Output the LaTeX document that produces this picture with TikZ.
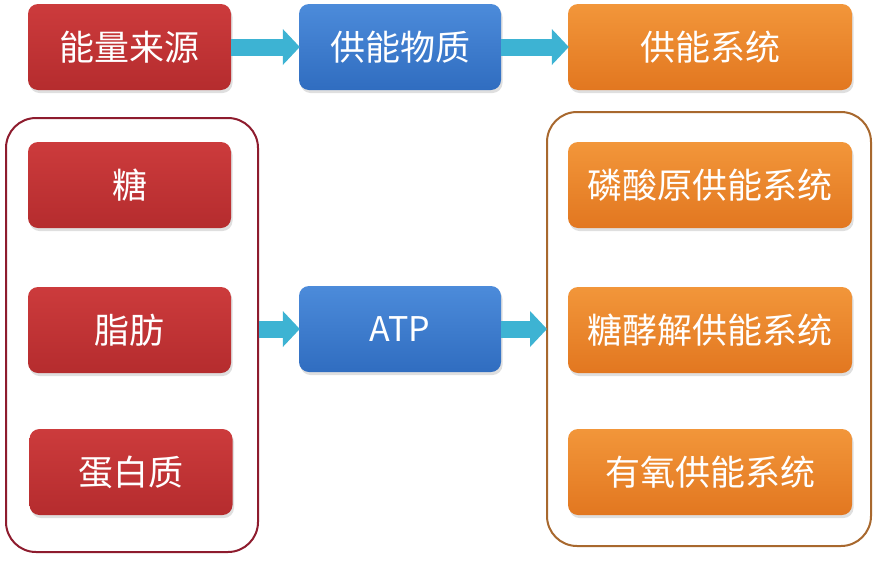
\documentclass[tikz,border=0pt]{standalone}
\usepackage{fontspec}
\newfontfamily\cjk{Noto Sans CJK SC}
\usetikzlibrary{shadows,arrows.meta}
\definecolor{redT}{HTML}{CC3B3C}
\definecolor{redB}{HTML}{B52C2E}
\definecolor{bluT}{HTML}{4C8BDA}
\definecolor{bluB}{HTML}{306DC0}
\definecolor{oraT}{HTML}{F2963A}
\definecolor{oraB}{HTML}{E27720}
\definecolor{arrC}{HTML}{3DB3D3}
\definecolor{lfC}{HTML}{8E1C2E}
\definecolor{rfC}{HTML}{A8682E}
\tikzset{
  box/.style={rounded corners=10pt, minimum height=86pt, inner sep=0pt,
    text=white, font=\cjk\fontsize{35}{40}\selectfont,
    drop shadow={opacity=0.25, shadow xshift=1.5pt, shadow yshift=-3pt}},
  redbox/.style={box, top color=redT, bottom color=redB, minimum width=203pt},
  blubox/.style={box, top color=bluT, bottom color=bluB, minimum width=202pt},
  orabox/.style={box, top color=oraT, bottom color=oraB, minimum width=284pt},
  frame/.style={draw, rounded corners=30pt, line width=2pt, inner sep=0pt},
  fat/.style={draw=arrC, line width=17pt, -{Triangle[width=35pt,length=17pt,fill=arrC]}, shorten >=-1pt}
}
\begin{document}
\begin{tikzpicture}[x=1pt,y=-1pt]
\useasboundingbox[fill=white] (0,0) rectangle (878,576);
\node[frame, draw=lfC, minimum width=252pt, minimum height=434pt] (lf) at (132,335) {};
\node[frame, draw=rfC, minimum width=324pt, minimum height=434pt] (rf) at (709,329) {};
\node[redbox] (src) at (129.5,47) {能量来源};
\node[blubox] (mat) at (400,47) {供能物质};
\node[orabox] (sys) at (710,47) {供能系统};
\node[redbox] (tang) at (129.5,185) {糖};
\node[redbox] (zhi) at (129.5,330) {脂肪};
\node[redbox] (dan) at (131,472) {蛋白质};
\node[blubox, font=\cjk\fontsize{34}{40}\selectfont] (atp) at (400,329) {ATP};
\node[orabox] (o1) at (710,185) {磷酸原供能系统};
\node[orabox] (o2) at (710,330) {糖酵解供能系统};
\node[orabox] (o3) at (710,472) {有氧供能系统};
\draw[fat] (src.east) -- (mat.west);
\draw[fat] (mat.east) -- (sys.west);
\draw[fat] (lf.east |- atp.west) -- (atp.west);
\draw[fat] (atp.east) -- (rf.west |- atp.east);
\end{tikzpicture}
\end{document}
